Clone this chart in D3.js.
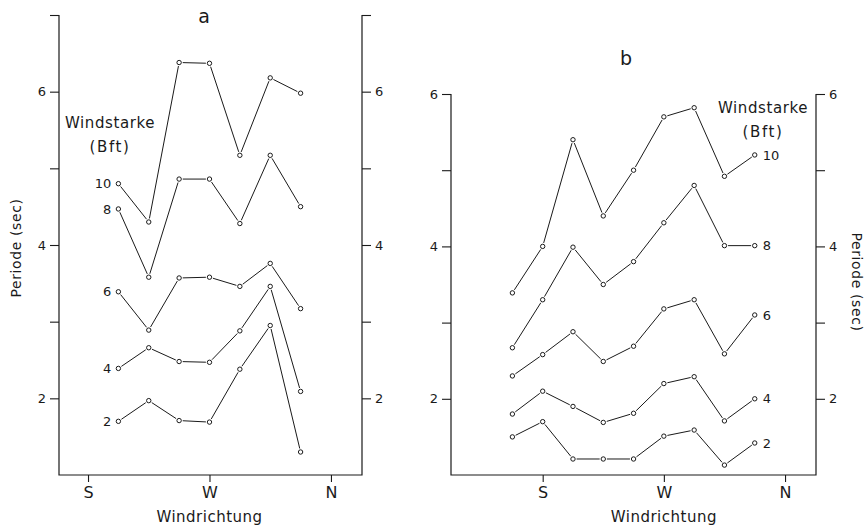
<!DOCTYPE html>
<html>
<head>
<meta charset="utf-8">
<script src="https://cdn.jsdelivr.net/npm/d3@7"></script>
<style>
  html, body { margin: 0; padding: 0; background: #fff; }
  svg text { font-family: "DejaVu Sans", sans-serif; fill: #1a1a1a; }
</style>
</head>
<body>
<svg id="chart" width="867" height="527"></svg>
<script>
// Windrichtung in Grad (S = 180, W = 270, N = 360)
const dirA = [202.5, 225, 247.5, 270, 292.5, 315, 337.5]
const dirB = [157.5, 180, 202.5, 225, 247.5, 270, 292.5, 315, 337.5]
const windForce = [2, 4, 6, 8, 10]
const compassTicks = [180, 270, 360]
const compassLabels = ['S', 'W', 'N']

// Periode (sec), Teil a
const periodA2 = [1.70, 1.97, 1.71, 1.69, 2.38, 2.95, 1.30]
const periodA4 = [2.39, 2.66, 2.48, 2.47, 2.88, 3.46, 2.09]
const periodA6 = [3.39, 2.89, 3.57, 3.58, 3.46, 3.76, 3.17]
const periodA8 = [4.47, 3.58, 4.86, 4.86, 4.28, 5.17, 4.50]
const periodA10 = [4.80, 4.30, 6.38, 6.37, 5.17, 6.18, 5.98]

// Periode (sec), Teil b
const periodB2 = [1.50, 1.70, 1.21, 1.21, 1.21, 1.51, 1.59, 1.13, 1.42]
const periodB4 = [1.80, 2.10, 1.90, 1.69, 1.81, 2.20, 2.29, 1.71, 2.00]
const periodB6 = [2.30, 2.58, 2.88, 2.49, 2.69, 3.18, 3.30, 2.59, 3.10]
const periodB8 = [2.67, 3.30, 3.99, 3.50, 3.80, 4.31, 4.80, 4.01, 4.01]
const periodB10 = [3.39, 4.00, 5.40, 4.40, 5.00, 5.70, 5.82, 4.92, 5.20]

const yTicksA = [2, 3, 4, 5, 6, 7]
const yTicksB = [2, 3, 4, 5, 6]

const ink = '#1a1a1a'
const svg = d3.select('#chart')

function drawPanel(cfg) {
  const { x0, x1, y0, y1, xDomain, yDomain, dirs, series, yTicks } = cfg
  const x = d3.scaleLinear().domain(xDomain).range([x0, x1])
  const y = d3.scaleLinear().domain(yDomain).range([y1, y0])
  const g = svg.append('g')

  // Rahmen: links, unten, rechts (oben offen)
  g.append('path')
    .attr('d', `M${x0},${y0}V${y1}H${x1}V${y0}`)
    .attr('fill', 'none').attr('stroke', ink).attr('stroke-width', 1.2)

  const fmt = d => (d % 2 === 0 ? d : '')
  const left = g.append('g').attr('transform', `translate(${x0},0)`)
    .call(d3.axisLeft(y).tickValues(yTicks).tickFormat(fmt).tickSize(9).tickPadding(4))
  const right = g.append('g').attr('transform', `translate(${x1},0)`)
    .call(d3.axisRight(y).tickValues(yTicks).tickFormat(fmt).tickSize(9).tickPadding(4))
  const bottom = g.append('g').attr('transform', `translate(0,${y1})`)
    .call(d3.axisBottom(x).tickValues(compassTicks)
      .tickFormat((d, i) => compassLabels[i]).tickSize(7).tickPadding(5))

  ;[left, right, bottom].forEach(a => {
    a.select('.domain').remove()
    a.selectAll('line').attr('stroke', ink).attr('stroke-width', 1.1)
    a.selectAll('text').attr('font-family', '"DejaVu Sans", sans-serif').attr('fill', ink)
  })
  left.selectAll('text').attr('font-size', 13)
  right.selectAll('text').attr('font-size', 13)
  bottom.selectAll('text').attr('font-size', 16)

  const gap = 3.6
  series.forEach((values, k) => {
    const pts = values.map((v, i) => [x(dirs[i]), y(v)])
    // Linien enden kurz vor den Kreisen
    d3.pairs(pts).forEach(([a, b]) => {
      const dx = b[0] - a[0], dy = b[1] - a[1]
      const len = Math.hypot(dx, dy)
      const ux = dx / len, uy = dy / len
      g.append('line')
        .attr('x1', a[0] + ux * gap).attr('y1', a[1] + uy * gap)
        .attr('x2', b[0] - ux * gap).attr('y2', b[1] - uy * gap)
        .attr('stroke', ink).attr('stroke-width', 1)
    })
    g.selectAll(null).data(pts).enter().append('circle')
      .attr('cx', d => d[0]).attr('cy', d => d[1]).attr('r', 2.2)
      .attr('fill', '#fff').attr('stroke', ink).attr('stroke-width', 1)

    const end = cfg.labelSide === 'left' ? pts[0] : pts[pts.length - 1]
    g.append('text')
      .attr('x', end[0] + (cfg.labelSide === 'left' ? -7 : 8))
      .attr('y', end[1]).attr('dy', '0.36em')
      .attr('text-anchor', cfg.labelSide === 'left' ? 'end' : 'start')
      .attr('font-size', 13)
      .text(windForce[k])
  })

  g.append('text').attr('x', cfg.title.x).attr('y', cfg.title.y)
    .attr('text-anchor', 'middle').attr('font-size', 19).text(cfg.title.text)

  g.append('text').attr('x', cfg.legend.x).attr('y', cfg.legend.y)
    .attr('text-anchor', 'middle').attr('font-size', 15).attr('letter-spacing', 0.6)
    .text('Windstarke')
  g.append('text').attr('x', cfg.legend.x).attr('y', cfg.legend.y + 24)
    .attr('text-anchor', 'middle').attr('font-size', 15).attr('letter-spacing', 1.6)
    .text('(Bft)')

  g.append('text').attr('x', x(270)).attr('y', 522)
    .attr('text-anchor', 'middle').attr('font-size', 15).attr('letter-spacing', 0.5)
    .text('Windrichtung')

  g.append('text')
    .attr('transform', `translate(${cfg.yLabel.x},${cfg.yLabel.y}) rotate(${cfg.yLabel.rot})`)
    .attr('text-anchor', 'middle').attr('dy', '0.35em').attr('font-size', 14)
    .attr('letter-spacing', 0.6)
    .text('Periode (sec)')
}

drawPanel({
  x0: 59, x1: 362, y0: 15, y1: 475,
  xDomain: [158.5, 383], yDomain: [1, 7],
  dirs: dirA, yTicks: yTicksA,
  series: [periodA2, periodA4, periodA6, periodA8, periodA10],
  labelSide: 'left',
  title: { text: 'a', x: 204, y: 23 },
  legend: { x: 110, y: 128 },
  yLabel: { x: 16, y: 248, rot: -90 }
})

drawPanel({
  x0: 451, x1: 816, y0: 94, y1: 475,
  xDomain: [111.9, 383], yDomain: [1, 6],
  dirs: dirB, yTicks: yTicksB,
  series: [periodB2, periodB4, periodB6, periodB8, periodB10],
  labelSide: 'right',
  title: { text: 'b', x: 626, y: 65 },
  legend: { x: 763, y: 113 },
  yLabel: { x: 857, y: 282, rot: 90 }
})
</script>
</body>
</html>
